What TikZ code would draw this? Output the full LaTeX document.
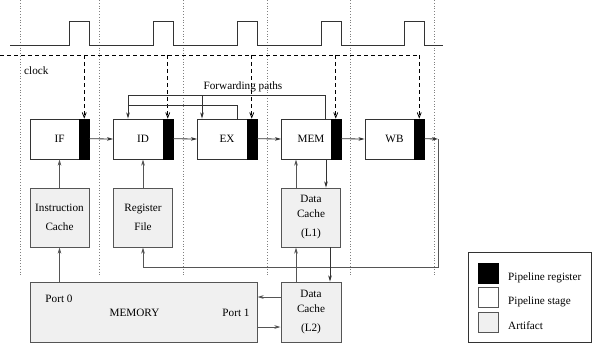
\documentclass[tikz,border=0pt]{standalone}
\usepackage{fontspec}
\setmainfont{Liberation Serif}
\usetikzlibrary{arrows.meta}
\definecolor{artfill}{HTML}{F0F0F0}
\definecolor{edge}{HTML}{333333}
\definecolor{gline}{HTML}{555555}
\begin{document}
\begin{tikzpicture}[x=1pt,y=-1pt,
  every node/.style={font=\fontsize{11.2}{13}\selectfont, inner sep=0pt},
  stagebox/.style={draw=edge, line width=0.9pt, fill=white, minimum width=59pt, minimum height=40pt},
  regbox/.style={draw=black, fill=black, minimum width=10pt, minimum height=40pt, anchor=north east},
  artbox/.style={draw=gline, line width=0.9pt, fill=artfill, minimum width=59pt, minimum height=59pt, align=center},
  solidarrow/.style={line width=0.8pt, draw=edge, -{Stealth[length=6pt,width=3.5pt,inset=1.5pt]}},
  grayarrow/.style={line width=1pt, draw=gline, -{Stealth[length=6pt,width=3.5pt,inset=1.5pt]}},
  clockarrow/.style={line width=0.8pt, dash pattern=on 4pt off 3pt, -{Straight Barb[length=5pt,width=4pt]}},
  gridline/.style={line width=0.8pt, gray, dotted},
  legsq/.style={draw=gline, line width=0.9pt, minimum width=20pt, minimum height=20pt}
]
\useasboundingbox (0,0) rectangle (594,345);

% dotted cycle lines
\foreach \x in {20,99,183,267,350,434} \draw[gridline] (\x,0) -- (\x,277);

% clock waveform
\draw[line width=0.9pt, edge] (10,45) -- (69,45) -- (69,21) -- (89,21) -- (89,45)
  -- (153,45) -- (153,21) -- (173,21) -- (173,45)
  -- (237,45) -- (237,21) -- (257,21) -- (257,45)
  -- (321,45) -- (321,21) -- (341,21) -- (341,45)
  -- (404,45) -- (404,21) -- (424,21) -- (424,45) -- (443,45);

\node[anchor=west] (clk) at (24,71) {clock};

% stages
\node[stagebox] (IF)  at (59.5,139) {IF};
\node[stagebox] (ID)  at (143,139) {ID};
\node[stagebox] (EX)  at (227,139) {EX};
\node[stagebox] (MEMs) at (311,139) {MEM};
\node[stagebox] (WB)  at (394.5,139) {WB};
\node[regbox] (IFr) at (IF.north east) {};
\node[regbox] (IDr) at (ID.north east) {};
\node[regbox] (EXr) at (EX.north east) {};
\node[regbox] (MEMr) at (MEMs.north east) {};
\node[regbox] (WBr) at (WB.north east) {};

% clock line and clock arrows
\coordinate (clkline) at (0,55);
\draw[line width=0.8pt, dash pattern=on 4pt off 3pt] (clkline) -- (419,55);
\foreach \r in {IFr,IDr,EXr,MEMr,WBr}
  \draw[clockarrow] (\r.north |- clkline) -- (\r.north);

% artifacts
\node[artbox] (IC) at (59.5,217.5) {Instruction\\[6pt]Cache};
\node[artbox] (RF) at (143,217.5) {Register\\[6pt]File};
\node[artbox] (L1) at (311,217.5) {Data\\[2pt]Cache\\[6pt](L1)};
\node[artbox, minimum width=60pt, minimum height=60pt] (L2) at (311,312) {Data\\[2pt]Cache\\[6pt](L2)};
\node[artbox, minimum width=227pt, minimum height=60pt] (MEMORY) at (143.5,312) {};
\node (p0) at (59,299) {Port 0};
\node (mtext) at (134.5,313) {MEMORY};
\node (p1) at (236,313) {Port 1};

% pipeline arrows
\draw[solidarrow] (IFr.east) -- (ID.west);
\draw[solidarrow] (IDr.east) -- (EX.west);
\draw[solidarrow] (EXr.east) -- (MEMs.west);
\draw[solidarrow] (MEMr.east) -- (WB.west);
\coordinate (wbout) at (438,139);
\draw[solidarrow] (WBr.east) -- (wbout);
\draw[grayarrow] (wbout) -- (438,267) -- (143,267) -- (RF.south);

% artifact arrows
\draw[grayarrow] (IC.north) -- (IF.south);
\draw[grayarrow] (RF.north) -- (ID.south);
\draw[grayarrow] (MEMORY.north -| IC.south) -- (IC.south);
\draw[grayarrow] (296,0 |- L1.north) -- (296,0 |- MEMs.south);
\draw[solidarrow] (326,0 |- MEMs.south) -- (326,0 |- L1.north);
\draw[grayarrow] (296,0 |- L2.north) -- (296,0 |- L1.south);
\draw[solidarrow] (330,0 |- L1.south) -- (330,0 |- L2.north);
\draw[grayarrow] (L2.west |- 0,297) -- (MEMORY.east |- 0,297);
\draw[grayarrow] (MEMORY.east |- 0,327) -- (L2.west |- 0,327);

% forwarding paths
\node (fwd) at (243,87) {Forwarding paths};
\draw[solidarrow] (325,0 |- MEMs.north) -- (325,95) -- (128,95) -- (128,0 |- ID.north);
\draw[solidarrow] (202,95) -- (202,0 |- EX.north);
\draw[line width=0.8pt, edge] (237,0 |- EX.north) -- (237,105) -- (128,105);

% legend
\node[draw=edge, line width=0.8pt, minimum width=123pt, minimum height=90pt] (legend) at (529.5,297) {};
\node[legsq, fill=black, draw=black] (lreg) at (488,273) {};
\node[legsq, fill=white] (lstage) at (488,297) {};
\node[legsq, fill=artfill] (lart) at (488,322) {};
\node[anchor=west] (treg) at (508,278) {Pipeline register};
\node[anchor=west] (tstage) at (508,302) {Pipeline stage};
\node[anchor=west] (tart) at (508,326) {Artifact};
\end{tikzpicture}
\end{document}
